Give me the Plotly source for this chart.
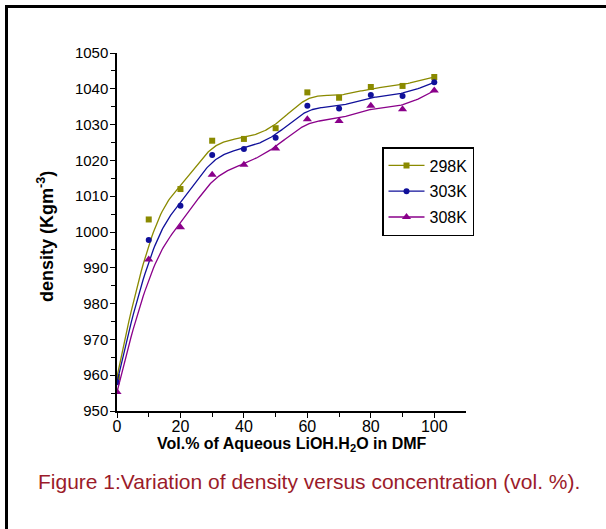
import numpy as np
import plotly.graph_objects as go

conc = [0, 10, 20, 30, 40, 50, 60, 70, 80, 90, 100]
d298 = [959.5, 1003.5, 1012.0, 1025.5, 1026.0, 1029.0, 1039.0, 1037.5, 1040.5, 1040.8, 1043.3]
d303 = [958.0, 997.8, 1007.3, 1021.5, 1023.2, 1026.3, 1035.3, 1034.5, 1038.3, 1038.0, 1041.8]
d308 = [955.3, 992.3, 1001.3, 1016.0, 1018.8, 1023.3, 1031.5, 1031.0, 1035.3, 1034.3, 1039.5]
names = ["298K", "303K", "308K"]
colors = ["#8a8a00", "#10109a", "#8a008a"]
symbols = ["square", "circle", "triangle-up"]
msizes = [6, 6, 8]


def bspline(xs, ys, n=300, p=3):
    P = np.column_stack([xs, ys]).astype(float)
    m = len(P)
    knots = np.concatenate([[0] * p, np.arange(m - p + 1), [m - p] * p]).astype(float)
    ts = np.linspace(0, m - p, n)
    out = []
    for t in ts:
        k = np.searchsorted(knots, t, side="right") - 1
        k = min(max(k, p), m - 1)
        d = [P[j + k - p].copy() for j in range(p + 1)]
        for r in range(1, p + 1):
            for j in range(p, r - 1, -1):
                den = knots[j + 1 + k - r] - knots[j + k - p]
                a = 0.0 if den == 0 else (t - knots[j + k - p]) / den
                d[j] = (1 - a) * d[j - 1] + a * d[j]
        out.append(d[p])
    out = np.array(out)
    return out[:, 0], out[:, 1]


fig = go.Figure()
for nm, ys, c, s, ms in zip(names, [d298, d303, d308], colors, symbols, msizes):
    bx, by = bspline(conc, ys)
    fig.add_trace(go.Scatter(x=bx, y=by, mode="lines", line=dict(color=c, width=1.3),
                             showlegend=False, hoverinfo="skip"))
    fig.add_trace(go.Scatter(x=conc, y=ys, mode="markers",
                             marker=dict(symbol=s, size=ms, color=c, line=dict(width=0)),
                             showlegend=False))
    fig.add_trace(go.Scatter(x=[None], y=[None], mode="lines+markers", name=nm,
                             line=dict(color=c, width=1.3),
                             marker=dict(symbol=s, size=ms, color=c),
                             legendgroup=nm))

W, H = 606, 529
L, R, T, B = 117, 140, 53, 118
pw, ph = W - L - R, H - T - B

def px(xp):
    return (xp - L) / pw

def py(yp):
    return (H - B - yp) / ph

font = "Liberation Sans, Arial, sans-serif"
fig.update_layout(
    width=W, height=H,
    margin=dict(l=L, r=R, t=T, b=B),
    paper_bgcolor="white", plot_bgcolor="white",
    font=dict(family=font, color="black"),
    xaxis=dict(range=[0, 110], showgrid=False, zeroline=False, showline=True,
               linecolor="black", linewidth=1.5, ticks="outside", ticklen=5,
               tickwidth=1.3, tickcolor="black", tickvals=[0, 20, 40, 60, 80, 100],
               tickfont=dict(size=16, family=font, color="black"), ticklabelstandoff=-5,
               minor=dict(tickvals=[10, 30, 50, 70, 90], ticks="outside", ticklen=4,
                          tickwidth=1.3, tickcolor="black")),
    yaxis=dict(range=[950, 1050], showgrid=False, zeroline=False, showline=True,
               linecolor="black", linewidth=1.5, ticks="outside", ticklen=5,
               tickwidth=1.3, tickcolor="black", dtick=10, tick0=950,
               tickfont=dict(size=15, family=font, color="black"), ticklabelstandoff=-1,
               minor=dict(dtick=5, ticks="outside", ticklen=4, tickwidth=1.3,
                          tickcolor="black")),
    legend=dict(x=px(382), y=py(147), xanchor="left", yanchor="top",
                bordercolor="black", borderwidth=1.5, bgcolor="white",
                font=dict(size=16, family=font), tracegroupgap=2,
                itemwidth=36),
    annotations=[
        dict(text="density (Kgm<sup>-3</sup>)", x=px(45), y=py(237), xref="paper",
             yref="paper", xanchor="center", yanchor="middle", textangle=-90,
             showarrow=False, font=dict(size=18, family=font, weight="bold")),
        dict(text="Vol.% of Aqueous LiOH.H<sub>2</sub>O in DMF", x=px(292), y=py(444),
             xref="paper", yref="paper", xanchor="center", yanchor="middle",
             showarrow=False, font=dict(size=16, family=font, weight="bold")),
        dict(text="Figure 1:Variation of density versus concentration (vol. %).",
             x=px(309), y=py(481), xref="paper", yref="paper", xanchor="center",
             yanchor="middle", showarrow=False,
             font=dict(size=21, family="Liberation Sans Narrow, Arial Narrow, Liberation Sans",
                       color="#9b1b2a")),
    ],
    shapes=[
        dict(type="line", xref="paper", yref="paper", x0=px(6.5), x1=px(6.5),
             y0=py(5), y1=py(540), line=dict(color="black", width=3)),
        dict(type="line", xref="paper", yref="paper", x0=px(5), x1=px(620),
             y0=py(6.5), y1=py(6.5), line=dict(color="black", width=3)),
    ],
)
fig.write_html("out.html")
